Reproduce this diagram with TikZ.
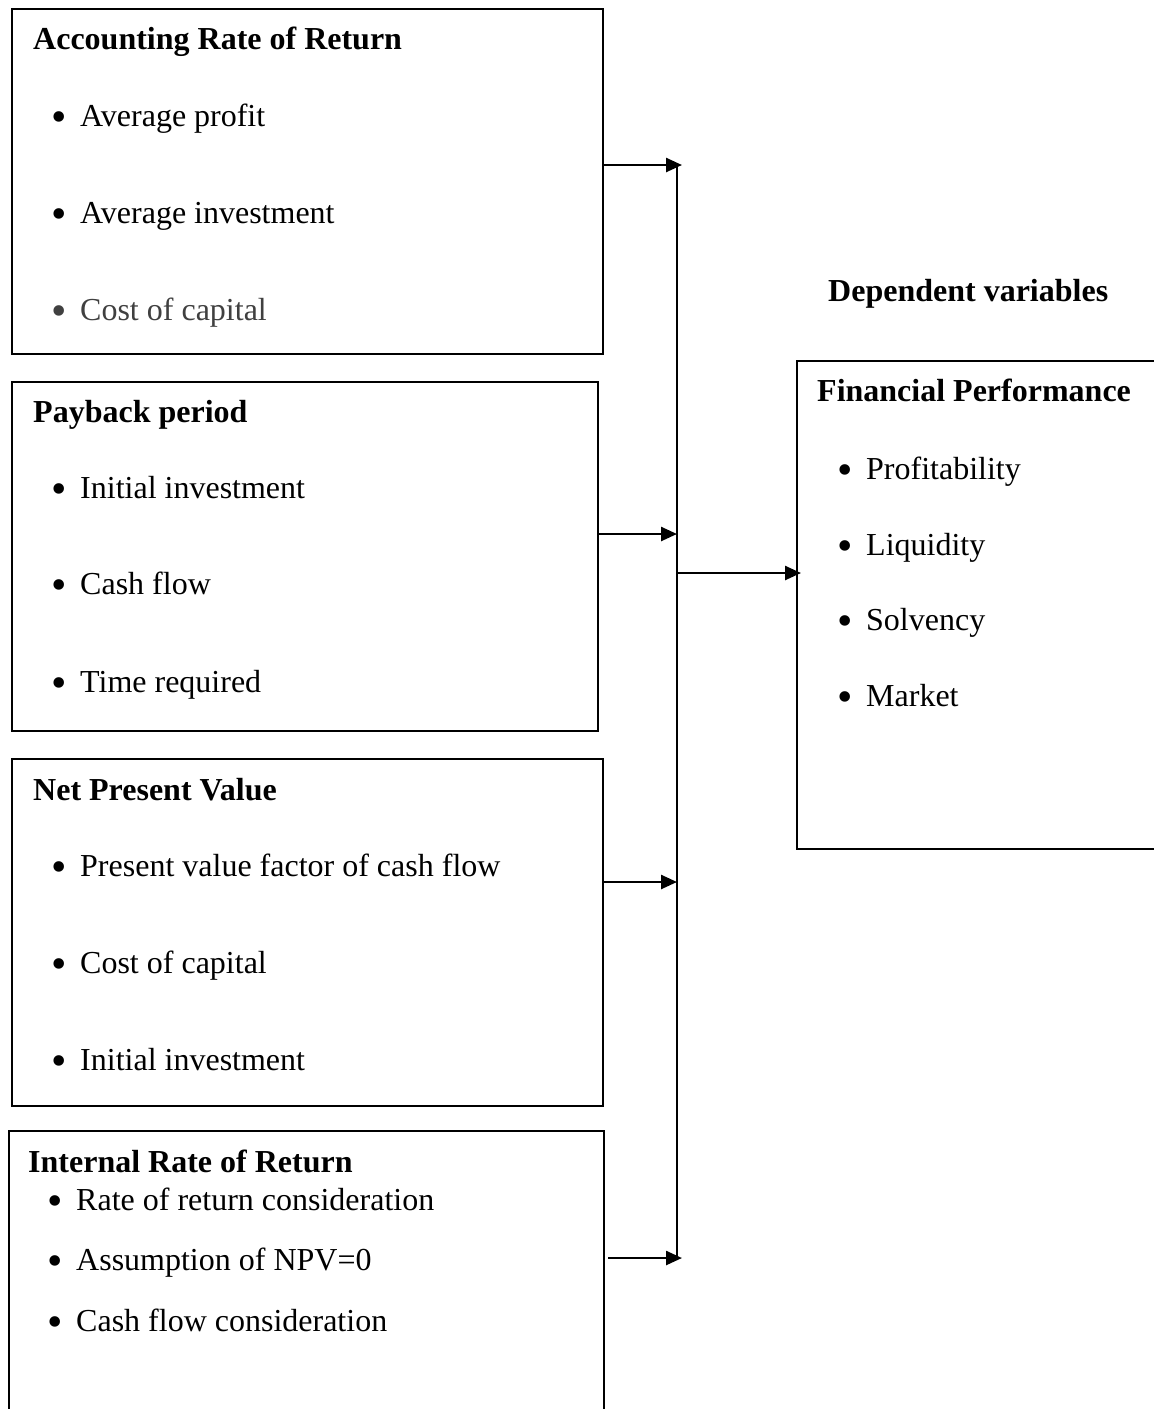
\documentclass[tikz,border=0pt]{standalone}
\usepackage{fontspec}
\setmainfont{Liberation Serif}
\usetikzlibrary{arrows.meta}
\definecolor{softgray}{HTML}{404040}
\tikzset{
  box/.style={draw=black, line width=2pt, anchor=north west, inner sep=0pt},
  ttl/.style={anchor=base west, inner sep=0pt, font=\fontsize{32}{38}\selectfont\bfseries},
  itm/.style={anchor=base west, inner sep=0pt, font=\fontsize{32}{38}\selectfont},
  conn/.style={line width=2.5pt, -{Triangle[length=16pt,width=14pt]}},
  bus/.style={line width=2.5pt}
}
\newcommand{\bul}{\makebox[28pt][l]{\hspace{-1pt}\raisebox{-5.5pt}{\fontsize{44}{44}\selectfont\textbullet}}}
\begin{document}
\begin{tikzpicture}[x=1pt,y=-1pt]
\clip (0,0) rectangle (1154,1409);
\fill[white] (0,0) rectangle (1154,1409);
% boxes
\node[box, minimum width=591pt, minimum height=345pt] (b1) at (11,8) {};
\node[box, minimum width=586pt, minimum height=349pt] (b2) at (11,381) {};
\node[box, minimum width=591pt, minimum height=347pt] (b3) at (11,758) {};
\node[box, minimum width=595pt, minimum height=320pt] (b4) at (8,1130) {};
\node[box, minimum width=400pt, minimum height=488pt] (b5) at (796,360) {};
% box 1
\node[ttl] (t1) at (33,49) {Accounting Rate of Return};
\node[itm] (i11) at (52,126) {\bul Average profit};
\node[itm] (i12) at (52,223) {\bul Average investment};
\node[itm, text=softgray] (i13) at (52,320) {\bul Cost of capital};
% box 2
\node[ttl] (t2) at (33,422) {Payback period};
\node[itm] (i21) at (52,498) {\bul Initial investment};
\node[itm] (i22) at (52,594) {\bul Cash flow};
\node[itm] (i23) at (52,692) {\bul Time required};
% box 3
\node[ttl] (t3) at (33,800) {Net Present Value};
\node[itm] (i31) at (52,876) {\bul Present value factor of cash flow};
\node[itm] (i32) at (52,973) {\bul Cost of capital};
\node[itm] (i33) at (52,1070) {\bul Initial investment};
% box 4
\node[ttl] (t4) at (28,1172) {Internal Rate of Return};
\node[itm] (i41) at (48,1210) {\bul Rate of return consideration};
\node[itm] (i42) at (48,1270) {\bul Assumption of NPV=0};
\node[itm] (i43) at (48,1331) {\bul Cash flow consideration};
% box 5
\node[ttl] (t5) at (817,401) {Financial Performance};
\node[itm] (i51) at (838,479) {\bul Profitability};
\node[itm] (i52) at (838,555) {\bul Liquidity};
\node[itm] (i53) at (838,630) {\bul Solvency};
\node[itm] (i54) at (838,706) {\bul Market};
\node[ttl] (dep) at (828,301) {Dependent variables};
% connectors
\coordinate (j1) at (682,165);
\coordinate (j2) at (677,534);
\coordinate (j3) at (677,882);
\coordinate (j4) at (682,1258);
\coordinate (bt) at (677,163);
\coordinate (bb) at (677,1258);
\coordinate (jo) at (677,573);
\draw[bus] (bt) -- (bb);
\draw[conn] (b1.east |- j1) -- (j1);
\draw[conn] (b2.east |- j2) -- (j2);
\draw[conn] (b3.east |- j3) -- (j3);
\draw[conn] ([xshift=3pt]b4.east |- j4) -- (j4);
\draw[conn] (jo) -- (b5.west |- jo) -- ++(5,0);
\end{tikzpicture}
\end{document}
